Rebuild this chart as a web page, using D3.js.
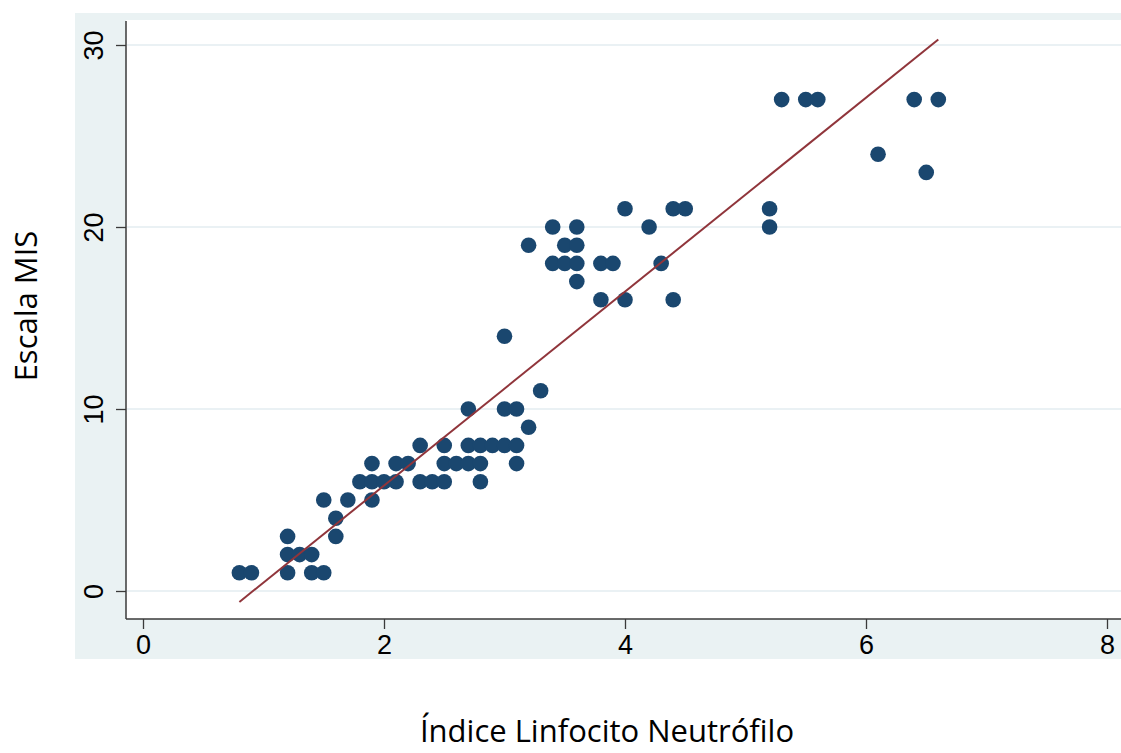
<!DOCTYPE html>
<html><head><meta charset="utf-8">
<script src="https://cdn.jsdelivr.net/npm/d3@7"></script>
<style>html,body{margin:0;padding:0;background:#fff;}svg{display:block;}</style>
</head><body>
<script>
// Data: Índice Linfocito Neutrófilo (x) vs Escala MIS (y)
const nliValues = [0.8,0.9,1.2,1.2,1.2,1.3,1.4,1.4,1.5,1.5,1.6,1.6,1.7,
  1.8,1.9,1.9,1.9,2.0,2.1,2.1,2.2,
  2.3,2.3,2.4,2.5,2.5,2.5,2.6,2.7,2.7,2.7,2.8,2.8,2.8,2.9,3.0,3.0,3.0,3.1,3.1,3.1,3.2,3.2,3.3,
  3.4,3.4,3.5,3.5,3.6,3.6,3.6,3.6,3.8,3.8,3.9,4.0,4.0,4.2,4.3,4.4,4.4,4.5,
  5.2,5.2,5.3,5.5,5.6,6.1,6.4,6.5,6.6];
const misValues = [1,1,3,2,1,2,2,1,1,5,4,3,5,
  6,7,6,5,6,7,6,7,
  8,6,6,8,7,6,7,10,8,7,8,7,6,8,14,10,8,10,8,7,9,19,11,
  20,18,19,18,20,19,18,17,18,16,18,21,16,20,18,21,16,21,
  21,20,27,27,27,24,27,23,27];
// fitted line endpoints
const fitX = [0.8, 6.6];
const fitY = [-0.6, 30.3];
const xTicks = [0,2,4,6,8];
const yTicks = [0,10,20,30];
const xTitle = "Índice Linfocito Neutrófilo";
const yTitle = "Escala MIS";

const W = 1121, H = 753;
const svg = d3.select("body").append("svg").attr("width", W).attr("height", H);

// graph region background
svg.append("rect").attr("x",75).attr("y",13).attr("width",W-75).attr("height",646).attr("fill","#eaf2f3");
// plot region
svg.append("rect").attr("x",126).attr("y",20).attr("width",W-126).attr("height",599).attr("fill","#fff");

const x = d3.scaleLinear().domain([0,8]).range([143,1107]);
const y = d3.scaleLinear().domain([0,30]).range([591,45]);

// grid
svg.append("g").selectAll("line").data(yTicks).join("line")
  .attr("x1",127).attr("x2",W).attr("y1",d=>y(d)).attr("y2",d=>y(d))
  .attr("stroke","#e3edf0").attr("stroke-width",1.6);

// axes
const axisColor = "#3a3a3a";
const gx = svg.append("g").attr("transform","translate(0,619)")
  .call(d3.axisBottom(x).tickValues(xTicks).tickSize(10).tickPadding(6).tickFormat(d3.format("d")));
gx.select(".domain").remove();
gx.append("line").attr("x1",126).attr("x2",W).attr("stroke",axisColor).attr("stroke-width",1.5);
gx.selectAll(".tick line").attr("stroke",axisColor).attr("stroke-width",1.3);
gx.selectAll(".tick text").attr("fill","#000").attr("font-family","Liberation Sans, Arial, sans-serif").attr("font-size",27);

const gy = svg.append("g").attr("transform","translate(126,0)")
  .call(d3.axisLeft(y).tickValues(yTicks).tickSize(10).tickFormat(d3.format("d")));
gy.select(".domain").remove();
gy.append("line").attr("y1",21).attr("y2",619).attr("stroke",axisColor).attr("stroke-width",1.5);
gy.selectAll(".tick line").attr("stroke",axisColor).attr("stroke-width",1.3);
gy.selectAll(".tick text")
  .attr("fill","#000").attr("font-family","Liberation Sans, Arial, sans-serif").attr("font-size",27)
  .attr("x",null).attr("dy",null)
  .attr("text-anchor","middle")
  .attr("transform","translate(-23,0) rotate(-90)");

// points
const pts = nliValues.map((v,i)=>({x:v,y:misValues[i]}));
svg.append("g").selectAll("circle").data(pts).join("circle")
  .attr("cx",d=>x(d.x)).attr("cy",d=>y(d.y)).attr("r",7.8).attr("fill","#1a476f");

// fitted line
svg.append("path")
  .datum(fitX.map((v,i)=>[v,fitY[i]]))
  .attr("d", d3.line().x(d=>x(d[0])).y(d=>y(d[1])))
  .attr("stroke","#90353b").attr("stroke-width",2).attr("fill","none");

// titles
svg.append("text").attr("x",607).attr("y",742).attr("text-anchor","middle")
  .attr("font-family","Open Sans, sans-serif").attr("font-size",31).attr("fill","#000").text(xTitle);
svg.append("text").attr("transform","translate(37,306) rotate(-90)").attr("text-anchor","middle")
  .attr("font-family","Open Sans, sans-serif").attr("font-size",31).attr("fill","#000").text(yTitle);
</script>
</body></html>
